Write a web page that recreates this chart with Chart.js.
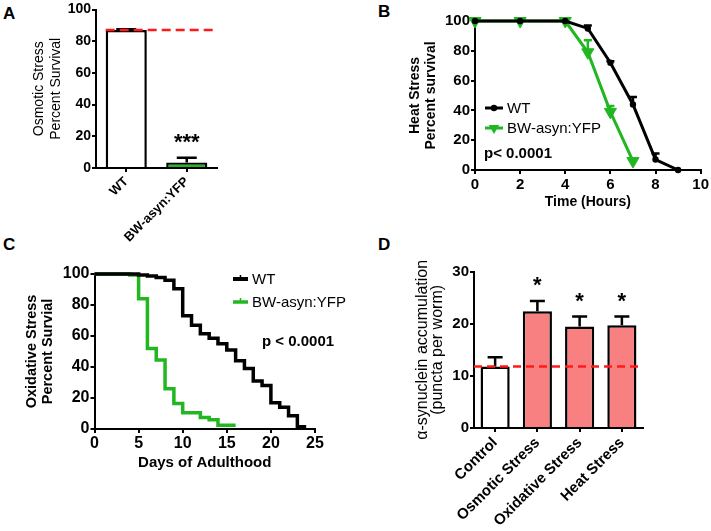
<!DOCTYPE html>
<html>
<head>
<meta charset="utf-8">
<script src="https://cdn.jsdelivr.net/npm/chart.js@4.4.1/dist/chart.umd.min.js"></script>
<style>
  body { margin: 0; background: #fff; width: 711px; height: 531px; position: relative; overflow: hidden; font-family: 'Liberation Sans', Arial, sans-serif; }
  canvas { position: absolute; }
  .panel { position: absolute; font-weight: bold; font-size: 17px; line-height: 1; }
</style>
</head>
<body>
<div class="panel" style="left:3px;top:5px">A</div>
<div class="panel" style="left:378px;top:3px">B</div>
<div class="panel" style="left:3px;top:236px">C</div>
<div class="panel" style="left:378px;top:236px">D</div>
<canvas id="chartA" width="235" height="255" style="left:0;top:0"></canvas>
<canvas id="chartB" width="351" height="215" style="left:360px;top:0"></canvas>
<canvas id="chartC" width="355" height="230" style="left:0;top:250px"></canvas>
<canvas id="chartD" width="351" height="281" style="left:360px;top:250px"></canvas>
<script>
// A - osmotic stress
const osmoticGroups = ['WT', 'BW-asyn:YFP'];
const osmoticSurvival = [87, 3.5];
const osmoticErr = [0.6, 3];
const osmoticStars = ['', '***'];

// B - heat stress
const heatHoursWT = [0, 2, 4, 5, 6, 7, 8, 9];
const heatWT = [100, 100, 100, 95, 72, 44, 7, 0];
const heatErrWT = [0, 0, 0, 2, 1, 5, 4, 0];
const heatHoursBW = [0, 2, 4, 5, 6, 7];
const heatBW = [100, 100, 100, 79, 39, 6];
const heatErrBW = [0, 0, 0, 8, 4, 0];

// C - oxidative stress (Kaplan-Meier steps)
const oxDaysWT = [0, 5, 6, 7, 8, 9, 10, 11, 12, 13, 14, 15, 16, 17, 18, 19, 20, 21, 22, 23, 24];
const oxWT = [100, 99.4, 98.7, 97.8, 96, 90.5, 73, 67, 61.5, 58.5, 55, 51, 44, 39, 31, 28, 17, 14, 8.5, 1.5, 1.5];
const oxDaysBW = [0, 4, 5, 6, 7, 8, 9, 10, 12, 13, 14, 16];
const oxBW = [100, 99.4, 84, 52, 44.5, 26, 16.5, 10.5, 7.5, 6, 2.5, 2.5];

// D - alpha-synuclein puncta
const synGroups = ['Control', 'Osmotic Stress', 'Oxidative Stress', 'Heat Stress'];
const synPuncta = [11.8, 22.4, 19.5, 19.7];
const synErr = [1.8, 2.0, 1.9, 1.7];
const synStars = ['', '*', '*', '*'];

const FONT = "'Liberation Sans', Arial, sans-serif";
const GREEN = '#22b722';
const PINK = '#f98080';
const RED = '#ff1a1a';

const pts = (xs, ys) => xs.map((x, i) => ({ x, y: ys[i] }));

const drawMarker = (ctx, style, x, y, r, color) => {
  ctx.fillStyle = color;
  ctx.beginPath();
  if (style === 'circle') {
    ctx.arc(x, y, r, 0, Math.PI * 2);
  } else {
    ctx.moveTo(x - r * 0.87, y - r * 0.5);
    ctx.lineTo(x + r * 0.87, y - r * 0.5);
    ctx.lineTo(x, y + r);
    ctx.closePath();
  }
  ctx.fill();
};

// error bars, reference line, stars, legend and notes
const extras = {
  id: 'extras',
  afterDatasetsDraw(chart, args, opts) {
    const ctx = chart.ctx;
    const ys = chart.scales.y;
    const area = chart.chartArea;
    ctx.save();
    (opts.errors || []).forEach(e => {
      const meta = chart.getDatasetMeta(e.dataset);
      const data = chart.data.datasets[e.dataset].data;
      meta.data.forEach((el, i) => {
        if (!e.values[i]) return;
        const v = typeof data[i] === 'object' ? data[i].y : data[i];
        const y0 = ys.getPixelForValue(v);
        const y1 = ys.getPixelForValue(v + e.values[i]);
        ctx.strokeStyle = e.color;
        ctx.lineWidth = e.width;
        ctx.beginPath();
        ctx.moveTo(el.x, y0);
        ctx.lineTo(el.x, y1);
        ctx.moveTo(el.x - e.cap / 2, y1);
        ctx.lineTo(el.x + e.cap / 2, y1);
        ctx.stroke();
        if (e.stars && e.stars[i]) {
          ctx.fillStyle = '#000';
          ctx.font = 'bold 22px ' + FONT;
          ctx.textAlign = 'center';
          ctx.textBaseline = 'alphabetic';
          ctx.fillText(e.stars[i], el.x, y1 - 8.5);
        }
      });
    });
    if (opts.refLine) {
      const r = opts.refLine;
      const bar = chart.getDatasetMeta(0).data[0];
      const x0 = r.fromBar ? bar.x - bar.width / 2 : area.left;
      const y = ys.getPixelForValue(r.value);
      ctx.strokeStyle = RED;
      ctx.lineWidth = 2.5;
      ctx.setLineDash(r.dash);
      ctx.beginPath();
      ctx.moveTo(x0, y);
      ctx.lineTo(area.right, y);
      ctx.stroke();
      ctx.setLineDash([]);
    }
    (opts.legend || []).forEach(l => {
      const x = area.left + l.dx, y = area.top + l.dy;
      ctx.strokeStyle = l.color;
      ctx.lineWidth = l.width;
      ctx.beginPath();
      ctx.moveTo(x, y);
      ctx.lineTo(x + l.len, y);
      ctx.stroke();
      if (l.marker) drawMarker(ctx, l.marker, x + l.len / 2, y, l.r, l.color);
      if (l.tick) {
        ctx.lineWidth = 1.5;
        ctx.beginPath();
        ctx.moveTo(x + l.len / 2, y);
        ctx.lineTo(x + l.len / 2, y - 4);
        ctx.stroke();
      }
      ctx.fillStyle = '#000';
      ctx.font = l.font;
      ctx.textAlign = 'left';
      ctx.textBaseline = 'middle';
      ctx.fillText(l.text, x + l.len + 4, y + 1);
    });
    (opts.notes || []).forEach(n => {
      ctx.fillStyle = '#000';
      ctx.font = n.font;
      ctx.textAlign = 'left';
      ctx.textBaseline = 'middle';
      ctx.fillText(n.text, area.left + n.dx, area.top + n.dy);
    });
    ctx.restore();
  }
};

const axis = (fit, horizontal, size, more) => Object.assign({
  border: { color: '#000', width: 2 },
  grid: { drawOnChartArea: false, color: '#000', lineWidth: 2, tickLength: 4, offset: false },
  ticks: { color: '#000', font: { family: FONT, size, weight: 'bold' }, padding: 1, autoSkip: false },
  afterFit: scale => { if (horizontal) scale.height = fit; else scale.width = fit; }
}, more);

const base = (padding, extraOpts) => ({
  responsive: false,
  animation: false,
  layout: { padding },
  plugins: { legend: { display: false }, tooltip: { enabled: false }, extras: extraOpts }
});

// Panel A
new Chart(document.getElementById('chartA'), {
  type: 'bar',
  data: {
    labels: osmoticGroups,
    datasets: [{
      data: osmoticSurvival,
      backgroundColor: ['#ffffff', GREEN],
      borderColor: '#000',
      borderWidth: 2.5,
      borderSkipped: 'bottom',
      barPercentage: 0.68,
      categoryPercentage: 1
    }]
  },
  options: Object.assign(base({ top: 9.5, right: 18, left: 0, bottom: 0 }, {
    errors: [{ dataset: 0, values: osmoticErr, color: '#000', width: 2.5, cap: 20, stars: osmoticStars }],
    refLine: { value: osmoticSurvival[0], fromBar: true, dash: [9, 5] }
  }), {
    scales: {
      x: axis(87, true, 13, { ticks: { color: '#000', font: { family: FONT, size: 13, weight: 'bold' }, padding: 2, minRotation: 45, maxRotation: 45 } }),
      y: axis(96, false, 14, {
        min: 0, max: 100,
        ticks: { color: '#000', font: { family: FONT, size: 14, weight: 'bold' }, padding: 1, stepSize: 20 },
        title: { display: true, text: ['Osmotic Stress', 'Percent Survival'], color: '#000', font: { family: FONT, size: 14, lineHeight: 1.2 }, padding: { top: 31, bottom: 0 } }
      })
    }
  }),
  plugins: [extras]
});

// Panel B
new Chart(document.getElementById('chartB'), {
  type: 'line',
  data: {
    datasets: [{
      label: 'WT',
      data: pts(heatHoursWT, heatWT),
      borderColor: '#000', backgroundColor: '#000', borderWidth: 3,
      pointStyle: 'circle', pointRadius: 3.2, pointBorderWidth: 0, clip: false
    }, {
      label: 'BW-asyn:YFP',
      data: pts(heatHoursBW, heatBW),
      borderColor: GREEN, backgroundColor: GREEN, borderWidth: 3,
      pointStyle: 'triangle', pointRotation: 180, pointRadius: 7, pointBorderWidth: 1, clip: false
    }]
  },
  options: Object.assign(base({ top: 21, right: 10.3, left: 0, bottom: 0 }, {
    errors: [
      { dataset: 0, values: heatErrWT, color: '#000', width: 2.5, cap: 8 },
      { dataset: 1, values: heatErrBW, color: GREEN, width: 2.5, cap: 8 }
    ],
    legend: [
      { dx: 10, dy: 87, len: 18, width: 3, color: '#000', marker: 'circle', r: 3.2, text: 'WT', font: '15px ' + FONT },
      { dx: 10, dy: 107, len: 18, width: 3, color: GREEN, marker: 'triangle', r: 6, text: 'BW-asyn:YFP', font: '15px ' + FONT }
    ],
    notes: [{ text: 'p< 0.0001', dx: 9, dy: 133, font: 'bold 15px ' + FONT }]
  }), {
    scales: {
      x: axis(45, true, 15, {
        type: 'linear', min: 0, max: 10,
        ticks: { color: '#000', font: { family: FONT, size: 15, weight: 'bold' }, padding: 2, stepSize: 2, maxRotation: 0 },
        title: { display: true, text: 'Time (Hours)', color: '#000', font: { family: FONT, size: 14, weight: 'bold', lineHeight: 1.2 }, padding: { top: 0, bottom: 4 } }
      }),
      y: axis(115, false, 15, {
        min: 0, max: 100,
        ticks: { color: '#000', font: { family: FONT, size: 15, weight: 'bold' }, padding: 1, stepSize: 20 },
        title: { display: true, text: ['Heat Stress', 'Percent survival'], color: '#000', font: { family: FONT, size: 14, weight: 'bold', lineHeight: 1.15 }, padding: { top: 47, bottom: 0 } }
      })
    }
  }),
  plugins: [extras]
});

// Panel C
new Chart(document.getElementById('chartC'), {
  type: 'line',
  data: {
    datasets: [{
      label: 'WT',
      data: pts(oxDaysWT, oxWT),
      borderColor: '#000', borderWidth: 3.5, stepped: 'before', pointRadius: 0, clip: false
    }, {
      label: 'BW-asyn:YFP',
      data: pts(oxDaysBW, oxBW),
      borderColor: GREEN, borderWidth: 3.5, stepped: 'before', pointRadius: 0, clip: false
    }]
  },
  options: Object.assign(base({ top: 24, right: 40, left: 0, bottom: 0 }, {
    legend: [
      { dx: 138.5, dy: 5, len: 15, width: 4, color: '#000', tick: true, text: 'WT', font: '15px ' + FONT },
      { dx: 138.5, dy: 28, len: 15, width: 3.5, color: GREEN, tick: true, text: 'BW-asyn:YFP', font: '15px ' + FONT }
    ],
    notes: [{ text: 'p < 0.0001', dx: 167.5, dy: 68, font: 'bold 15px ' + FONT }]
  }), {
    scales: {
      x: axis(51, true, 16, {
        type: 'linear', min: 0, max: 25,
        ticks: { color: '#000', font: { family: FONT, size: 16, weight: 'bold' }, padding: 1, stepSize: 5, maxRotation: 0 },
        title: { display: true, text: 'Days of Adulthood', color: '#000', font: { family: FONT, size: 15, weight: 'bold', lineHeight: 1.2 }, padding: { top: 0, bottom: 8 } }
      }),
      y: axis(94.5, false, 16, {
        min: 0, max: 100,
        ticks: { color: '#000', font: { family: FONT, size: 16, weight: 'bold' }, padding: 1, stepSize: 20 },
        title: { display: true, text: ['Oxidative Stress', 'Percent Survial'], color: '#000', font: { family: FONT, size: 14.5, weight: 'bold', lineHeight: 1.1 }, padding: { top: 24, bottom: 0 } }
      })
    }
  }),
  plugins: [extras]
});

// Panel D
new Chart(document.getElementById('chartD'), {
  type: 'bar',
  data: {
    labels: synGroups,
    datasets: [{
      data: synPuncta,
      backgroundColor: ['#ffffff', PINK, PINK, PINK],
      borderColor: '#000',
      borderWidth: 2.5,
      borderSkipped: 'bottom',
      barPercentage: 0.69,
      categoryPercentage: 1
    }]
  },
  options: Object.assign(base({ top: 21.7, right: 68, left: 0, bottom: 0 }, {
    errors: [{ dataset: 0, values: synErr, color: '#000', width: 2.5, cap: 15, stars: synStars }],
    refLine: { value: synPuncta[0], fromBar: false, dash: [8, 5] }
  }), {
    scales: {
      x: axis(103, true, 15, { ticks: { color: '#000', font: { family: FONT, size: 15, weight: 'bold' }, padding: 2, minRotation: 45, maxRotation: 45 } }),
      y: axis(114, false, 15, {
        min: 0, max: 30,
        ticks: { color: '#000', font: { family: FONT, size: 15, weight: 'bold' }, padding: 1, stepSize: 10 },
        title: { display: true, text: ['\u03b1-synuclein accumulation', '(puncta per worm)'], color: '#000', font: { family: FONT, size: 16, lineHeight: 0.95 }, padding: { top: 54.5, bottom: 0 } }
      })
    }
  }),
  plugins: [extras]
});
</script>
</body>
</html>
